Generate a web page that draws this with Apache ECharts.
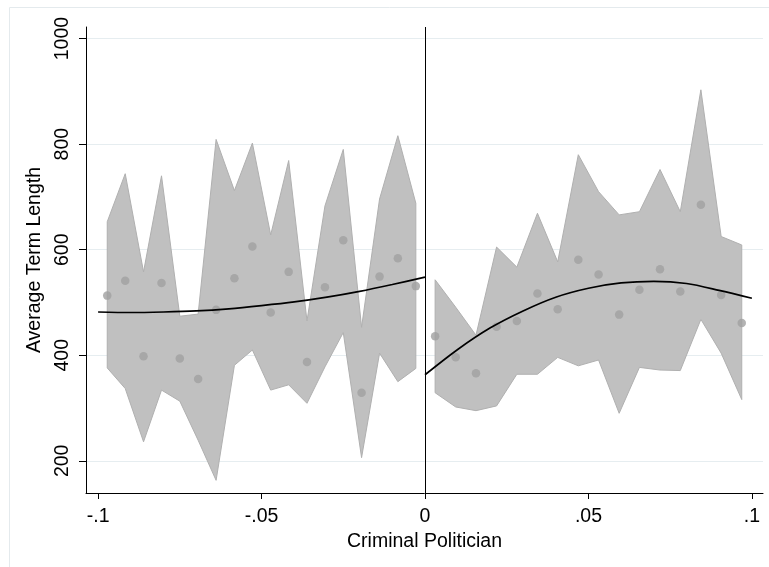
<!DOCTYPE html>
<html>
<head>
<meta charset="utf-8">
<script src="https://cdn.jsdelivr.net/npm/echarts@6/dist/echarts.min.js"></script>
<style>
html,body{margin:0;padding:0;background:#fff;}
#chart{width:769px;height:567px;}
</style>
</head>
<body>
<div id="chart"></div>
<script>
// ---- data ----
var leftX = [-0.0972, -0.0917, -0.0861, -0.0806, -0.0750, -0.0694, -0.0639, -0.0583, -0.0528,
             -0.0472, -0.0417, -0.0361, -0.0306, -0.0250, -0.0194, -0.0139, -0.0083, -0.0028];
var leftMean  = [513, 541, 398, 537, 394, 355, 486, 546, 606, 481, 558, 387, 529, 618, 329, 549, 584, 531];
var leftUpper = [653, 744, 558, 740, 474, 478, 809, 712, 802, 628, 769, 465, 683, 790, 453, 696, 816, 688];
var leftLower = [376, 337, 236, 334, 313, 239, 163, 381, 410, 334, 344, 309, 378, 443, 206, 404, 350, 375];

var rightX = [0.0031, 0.0094, 0.0156, 0.0219, 0.0281, 0.0344, 0.0406, 0.0469,
              0.0531, 0.0594, 0.0656, 0.0719, 0.0781, 0.0844, 0.0906, 0.0969];
var rightMean  = [436, 396, 366, 454, 465, 517, 487, 581, 553, 477, 524, 563, 521, 685, 514, 461];
var rightUpper = [543, 491, 438, 605, 567, 669, 577, 780, 710, 666, 672, 752, 672, 903, 625, 609];
var rightLower = [329, 302, 295, 304, 364, 364, 396, 380, 391, 290, 377, 372, 371, 468, 404, 316];

var leftFitX = [-0.1, -0.09, -0.08, -0.07, -0.06, -0.05, -0.04, -0.03, -0.02, -0.01, 0];
var leftFit  = [482, 481, 482, 484, 488, 494, 501, 510, 521, 534, 548];
var rightFitX = [0, 0.01, 0.02, 0.03, 0.04, 0.05, 0.06, 0.07, 0.08, 0.09, 0.1];
var rightFit  = [363, 411, 452, 484, 510, 527, 537, 540, 536, 523, 508];

var xTicks = [-0.1, -0.05, 0, 0.05, 0.1];
var xTickLabels = ['-.1', '-.05', '0', '.05', '.1'];
var yTicks = [200, 400, 600, 800, 1000];
var yTickLabels = ['200', '400', '600', '800', '1000'];

var xTitle = 'Criminal Politician';
var yTitle = 'Average Term Length';

// ---- helpers ----
function zip(a, b) { return a.map(function (v, i) { return [v, b[i]]; }); }
function bandData(xs, lo, hi) { return xs.map(function (v, i) { return [v, lo[i], hi[i]]; }); }
function labelFor(ticks, labels) {
  return function (v) {
    var i = ticks.findIndex(function (t) { return Math.abs(t - v) < 1e-9; });
    return i >= 0 ? labels[i] : '';
  };
}

function bandRender(xs, lo, hi) {
  return function (params, api) {
    if (params.dataIndex !== 0) return null;
    var pts = [];
    for (var i = 0; i < xs.length; i++) pts.push(api.coord([xs[i], hi[i]]));
    for (var j = xs.length - 1; j >= 0; j--) pts.push(api.coord([xs[j], lo[j]]));
    return {
      type: 'polygon',
      shape: { points: pts },
      style: { fill: '#c0c0c0', stroke: '#b0b0b0', lineWidth: 1 }
    };
  };
}

var FONT = 'Liberation Sans, Arial, Helvetica, sans-serif';
var FS = 19.5;
var chart = echarts.init(document.getElementById('chart'), null, { renderer: 'canvas' });

chart.setOption({
  animation: false,
  backgroundColor: '#ffffff',
  graphic: [{
    type: 'rect', silent: true, z: -10,
    shape: { x: 9.5, y: 7.5, width: 800, height: 600 },
    style: { fill: 'none', stroke: '#e4eaed', lineWidth: 1 }
  }],
  grid: { left: 86, right: 6, top: 27, bottom: 74, containLabel: false },
  xAxis: {
    type: 'value', min: -0.1037, max: 0.1034,
    name: xTitle, nameLocation: 'middle', nameGap: 38,
    nameTextStyle: { fontFamily: FONT, fontSize: FS, color: '#000' },
    axisLine: { show: true, onZero: false, lineStyle: { color: '#000', width: 1 } },
    axisTick: { show: true, length: 6, customValues: xTicks, lineStyle: { color: '#000' } },
    axisLabel: {
      customValues: xTicks, margin: 14,
      fontFamily: FONT, fontSize: FS, color: '#000',
      formatter: labelFor(xTicks, xTickLabels)
    },
    splitLine: { show: false }
  },
  yAxis: {
    type: 'value', min: 139, max: 1022,
    name: yTitle, nameLocation: 'middle', nameGap: 40, nameRotate: 90,
    nameTextStyle: { fontFamily: FONT, fontSize: FS, color: '#000' },
    axisLine: { show: true, onZero: false, lineStyle: { color: '#000', width: 1 } },
    axisTick: { show: true, length: 7, customValues: yTicks, lineStyle: { color: '#000' } },
    axisLabel: {
      customValues: yTicks, rotate: 90, margin: 13,
      fontFamily: FONT, fontSize: FS, color: '#000',
      formatter: labelFor(yTicks, yTickLabels)
    },
    splitLine: { show: true, lineStyle: { color: '#e6edf0', width: 1 } }
  },
  series: [
    {
      type: 'custom', name: 'ciLeft', z: 1, silent: true,
      renderItem: bandRender(leftX, leftLower, leftUpper),
      data: bandData(leftX, leftLower, leftUpper),
      encode: { x: 0, y: [1, 2] }
    },
    {
      type: 'custom', name: 'ciRight', z: 1, silent: true,
      renderItem: bandRender(rightX, rightLower, rightUpper),
      data: bandData(rightX, rightLower, rightUpper),
      encode: { x: 0, y: [1, 2] }
    },
    {
      type: 'scatter', name: 'meansLeft', z: 2, symbolSize: 8.5,
      itemStyle: { color: '#a0a0a0' },
      data: zip(leftX, leftMean)
    },
    {
      type: 'scatter', name: 'meansRight', z: 2, symbolSize: 8.5,
      itemStyle: { color: '#a0a0a0' },
      data: zip(rightX, rightMean)
    },
    {
      type: 'line', name: 'fitLeft', z: 3, smooth: 0.3, showSymbol: false,
      lineStyle: { color: '#000', width: 1.7 },
      data: zip(leftFitX, leftFit),
      markLine: {
        silent: true, symbol: 'none', label: { show: false },
        lineStyle: { color: '#000', width: 1, type: 'solid' },
        data: [{ xAxis: 0 }]
      }
    },
    {
      type: 'line', name: 'fitRight', z: 3, smooth: 0.3, showSymbol: false,
      lineStyle: { color: '#000', width: 1.7 },
      data: zip(rightFitX, rightFit)
    }
  ]
});
</script>
</body>
</html>
